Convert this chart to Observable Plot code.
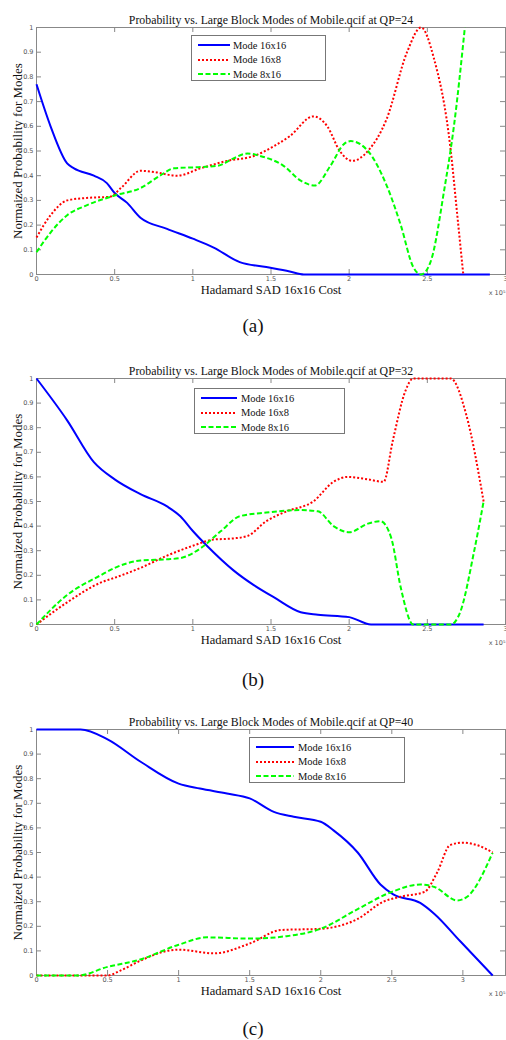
<!DOCTYPE html>
<html>
<head>
<meta charset="utf-8">
<script src="https://cdn.jsdelivr.net/npm/d3@7"></script>
<script src="https://cdn.jsdelivr.net/npm/@observablehq/plot@0.6"></script>
<style>
  html, body { margin: 0; padding: 0; background: #fff; }
  #root { position: relative; width: 506px; height: 1040px; overflow: hidden; background: #fff; }
  .panel { position: absolute; left: 0; }
  .legend { position: absolute; background: #fff; border: 1px solid #777; box-sizing: border-box; font-family: "Liberation Serif", serif; font-size: 10.5px; color: #111; }
  .legend .row { position: absolute; left: 0; height: 14px; display: flex; align-items: center; white-space: nowrap; }
  .caption { position: absolute; left: 0; width: 506px; text-align: center; font-family: "Liberation Serif", serif; font-size: 19px; color: #111; }
</style>
</head>
<body>
<div id="root"></div>
<script>
// ---- data ----
const modeNames = ["Mode 16x16", "Mode 16x8", "Mode 8x16"];
const modeColors = ["#0000ff", "#ff0000", "#00ff00"];
const modeDash = [null, "2,2", "5,2.5"];
const yTicks = [0, 0.1, 0.2, 0.3, 0.4, 0.5, 0.6, 0.7, 0.8, 0.9, 1];
const yTickLabels = ["0", "0.1", "0.2", "0.3", "0.4", "0.5", "0.6", "0.7", "0.8", "0.9", "1"];
const xTicks = [0, 0.5, 1, 1.5, 2, 2.5, 3];
const xTickLabels = ["0", "0.5", "1", "1.5", "2", "2.5", "3"];
const titles = [
  "Probability vs. Large Block Modes of Mobile.qcif at QP=24",
  "Probability vs. Large Block Modes of Mobile.qcif at QP=32",
  "Probability vs. Large Block Modes of Mobile.qcif at QP=40"
];
const xLabel = "Hadamard SAD 16x16 Cost";
const yLabel = "Normaized Probability for Modes";
const xExponent = "x 10\u2075";
const captions = ["(a)", "(b)", "(c)"];
const xMax = [3, 3, 3.3];

// QP=24
const qp24_16x16 = [[0,0.77],[0.09,0.60],[0.196,0.45],[0.24,0.43],[0.367,0.40],[0.45,0.37],[0.5,0.33],[0.58,0.29],[0.665,0.23],[0.835,0.185],[1.0,0.145],[1.13,0.11],[1.3,0.05],[1.47,0.03],[1.62,0.012],[1.71,0.0],[2.2,0],[2.9,0]];
const qp24_16x8 = [[0,0.15],[0.09,0.24],[0.196,0.30],[0.32,0.31],[0.47,0.315],[0.54,0.35],[0.665,0.42],[0.75,0.415],[0.9,0.40],[1.05,0.43],[1.22,0.46],[1.39,0.48],[1.52,0.52],[1.62,0.56],[1.77,0.64],[1.86,0.60],[1.94,0.50],[2.02,0.46],[2.12,0.50],[2.24,0.63],[2.37,0.90],[2.46,1.0],[2.54,0.88],[2.65,0.50],[2.69,0.25],[2.73,0.0]];
const qp24_8x16 = [[0,0.09],[0.09,0.17],[0.196,0.24],[0.32,0.28],[0.5,0.32],[0.665,0.35],[0.79,0.40],[0.88,0.43],[1.05,0.435],[1.16,0.44],[1.26,0.47],[1.35,0.49],[1.43,0.48],[1.58,0.44],[1.69,0.38],[1.78,0.36],[1.88,0.44],[1.97,0.53],[2.01,0.54],[2.12,0.50],[2.24,0.36],[2.33,0.20],[2.41,0.03],[2.46,0.0],[2.52,0.05],[2.61,0.35],[2.67,0.60],[2.74,1.0]];
// QP=32
const qp32_16x16 = [[0,1.0],[0.196,0.83],[0.367,0.66],[0.5,0.59],[0.665,0.53],[0.835,0.48],[0.92,0.44],[1.0,0.38],[1.09,0.32],[1.26,0.22],[1.39,0.16],[1.52,0.11],[1.69,0.05],[1.8,0.04],[2.0,0.03],[2.14,0.0],[2.5,0],[2.86,0]];
const qp32_16x8 = [[0,0],[0.196,0.09],[0.41,0.17],[0.5,0.19],[0.665,0.23],[0.835,0.28],[1.0,0.32],[1.13,0.345],[1.26,0.35],[1.35,0.36],[1.47,0.42],[1.6,0.46],[1.77,0.50],[1.9,0.58],[1.99,0.60],[2.12,0.59],[2.22,0.58],[2.28,0.75],[2.36,0.95],[2.41,1.0],[2.65,1.0],[2.75,0.85],[2.86,0.50]];
const qp32_8x16 = [[0,0],[0.196,0.12],[0.41,0.20],[0.5,0.23],[0.665,0.26],[0.835,0.265],[0.92,0.27],[1.05,0.31],[1.18,0.38],[1.3,0.44],[1.47,0.455],[1.69,0.465],[1.8,0.46],[1.9,0.40],[2.0,0.375],[2.12,0.41],[2.2,0.42],[2.27,0.35],[2.33,0.15],[2.41,0.0],[2.65,0.0],[2.71,0.05],[2.8,0.30],[2.86,0.50]];
// QP=40
const qp40_16x16 = [[0,1.0],[0.31,1.0],[0.5,0.96],[0.73,0.87],[1.0,0.78],[1.15,0.76],[1.34,0.74],[1.5,0.72],[1.67,0.665],[1.81,0.645],[2.0,0.625],[2.09,0.59],[2.26,0.50],[2.42,0.37],[2.51,0.33],[2.7,0.295],[2.8,0.25],[2.98,0.14],[3.21,0.0]];
const qp40_16x8 = [[0,0],[0.5,0.0],[0.59,0.02],[0.73,0.06],[0.92,0.10],[1.0,0.105],[1.25,0.09],[1.5,0.13],[1.72,0.185],[2.0,0.19],[2.26,0.23],[2.44,0.30],[2.56,0.32],[2.73,0.34],[2.82,0.42],[2.91,0.53],[3.0,0.54],[3.1,0.53],[3.21,0.50]];
const qp40_8x16 = [[0,0],[0.29,0.0],[0.5,0.035],[0.73,0.065],[1.0,0.125],[1.2,0.155],[1.5,0.15],[1.76,0.16],[2.0,0.19],[2.26,0.27],[2.5,0.34],[2.7,0.37],[2.8,0.36],[2.96,0.305],[3.03,0.32],[3.21,0.50]];

const panelSeries = [
  [qp24_16x16, qp24_16x8, qp24_8x16],
  [qp32_16x16, qp32_16x8, qp32_8x16],
  [qp40_16x16, qp40_16x8, qp40_8x16]
];

// ---- layout ----
const panelTop = [0, 351, 702];
const frameH = [247, 246, 246];
const legendBox = [
  {left: 191, top: 35, width: 135, lineL: 6, lineW: 32, textL: 41},
  {left: 194, top: 388, width: 151, lineL: 6, lineW: 36, textL: 46},
  {left: 249, top: 737, width: 156, lineL: 6, lineW: 38, textL: 48}
];
const captionY = [315, 669, 1018];

const root = document.getElementById("root");
const W = 506, mL = 36, mR = 1, mT = 27, H = 310;
const serif = "Liberation Serif";
const sans = "DejaVu Sans";

for (let p = 0; p < 3; p++) {
  const fw = W - mL - mR;
  const fh = frameH[p];
  const lines = panelSeries[p].map((s, i) => Plot.line(s, {
    x: d => d[0], y: d => d[1],
    stroke: modeColors[i], strokeWidth: 2,
    strokeDasharray: modeDash[i] || undefined,
    strokeLinecap: "butt",
    curve: "monotone-x"
  }));
  const xt = xTicks.filter(t => t <= xMax[p]);
  const chart = Plot.plot({
    width: W, height: H,
    marginLeft: mL, marginRight: mR, marginTop: mT, marginBottom: H - mT - fh,
    x: {domain: [0, xMax[p]], axis: null},
    y: {domain: [0, 1], axis: null},
    style: {background: "transparent", overflow: "visible"},
    marks: [
      Plot.frame({stroke: "#888", strokeWidth: 1}),
      // inward ticks on all four sides
      Plot.tickY(yTicks, {y: d => d, insetRight: fw - 5, stroke: "#888"}),
      Plot.tickY(yTicks, {y: d => d, insetLeft: fw - 5, stroke: "#888"}),
      Plot.tickX(xt, {x: d => d, insetTop: fh - 5, stroke: "#888"}),
      Plot.tickX(xt, {x: d => d, insetBottom: fh - 5, stroke: "#888"}),
      ...lines,
      // tick labels
      Plot.text(yTicks, {y: d => d, text: (d, i) => yTickLabels[i], frameAnchor: "left", dx: -3, textAnchor: "end", fontSize: 6.5, fill: "#555", fontFamily: sans}),
      Plot.text(xt, {x: d => d, text: (d, i) => xTickLabels[i], frameAnchor: "bottom", dy: 6, fontSize: 6.5, fill: "#555", fontFamily: sans}),
      Plot.text([xExponent], {frameAnchor: "bottom-right", textAnchor: "end", dx: 0, dy: 20, fontSize: 6.5, fill: "#555", fontFamily: sans}),
      // titles
      Plot.text([titles[p]], {frameAnchor: "top", textAnchor: "middle", dy: -12, fontSize: 11.8, fill: "#111", fontFamily: serif}),
      Plot.text([xLabel], {frameAnchor: "bottom", textAnchor: "middle", dy: 19, fontSize: 12.5, fill: "#111", fontFamily: serif}),
      Plot.text([yLabel], {frameAnchor: "left", textAnchor: "middle", dx: -19, rotate: -90, fontSize: 13, fill: "#111", fontFamily: serif})
    ]
  });
  chart.classList.add("panel");
  chart.style.top = panelTop[p] + "px";
  root.appendChild(chart);

  // legend
  const lb = legendBox[p];
  const leg = document.createElement("div");
  leg.className = "legend";
  leg.style.left = lb.left + "px";
  leg.style.top = lb.top + "px";
  leg.style.width = lb.width + "px";
  leg.style.height = "46px";
  modeNames.forEach((name, i) => {
    const row = document.createElement("div");
    row.className = "row";
    row.style.top = (2 + i * 14.5) + "px";
    const svg = d3.create("svg").attr("width", lb.textL).attr("height", 14).style("flex", "none");
    svg.append("line").attr("x1", lb.lineL).attr("x2", lb.lineL + lb.lineW).attr("y1", 7).attr("y2", 7)
      .attr("stroke", modeColors[i]).attr("stroke-width", 2)
      .attr("stroke-dasharray", modeDash[i] || null);
    row.appendChild(svg.node());
    const t = document.createElement("span");
    t.textContent = name;
    row.appendChild(t);
    leg.appendChild(row);
  });
  root.appendChild(leg);

  const cap = document.createElement("div");
  cap.className = "caption";
  cap.style.top = captionY[p] + "px";
  cap.textContent = captions[p];
  root.appendChild(cap);
}
</script>
</body>
</html>
